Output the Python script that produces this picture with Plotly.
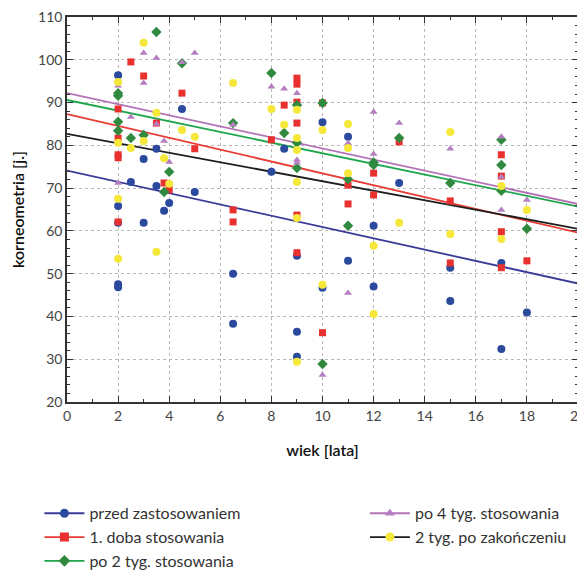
import plotly.graph_objects as go

# przed zastosowaniem
blue_x = [2, 2, 2, 2, 2, 2.5, 3, 3, 3.5, 3.5, 3.8, 4, 4.5, 5, 6.5, 6.5, 8, 8.5, 9, 9, 9,
          10, 10, 11, 11, 12, 12, 13, 15, 15, 17, 17, 18]
blue_y = [96.4, 65.8, 61.9, 47.5, 46.8, 71.4, 76.8, 61.9, 79.2, 70.5, 64.7, 66.5, 88.5, 69.1,
          50, 38.3, 73.8, 79.2, 54.2, 36.4, 30.6, 85.4, 46.7, 82, 53, 61.2, 47, 71.2, 51.4,
          43.6, 52.5, 32.4, 40.9]

# 1. doba stosowania
red_x = [2, 2, 2, 2, 2, 2.5, 3, 3.5, 3.8, 4, 4.5, 5, 6.5, 6.5, 8, 8.5, 9, 9, 9, 9, 9, 9,
         10, 10, 11, 11, 12, 12, 13, 15, 15, 17, 17, 17, 17, 18]
red_y = [88.5, 81.7, 77.8, 77.1, 62.1, 99.5, 96.2, 85.2, 71.2, 69.6, 92.2, 79.2, 64.9, 62.1,
         81.3, 89.4, 95.7, 94.3, 90.1, 85.2, 63.7, 54.9, 89.9, 36.2, 70.7, 66.3, 73.5, 68.4,
         80.8, 67, 52.5, 77.8, 72.8, 59.8, 51.4, 53]

# po 2 tyg. stosowania
green_x = [2, 2, 2, 2, 2.5, 3, 3.5, 3.8, 4, 4.5, 6.5, 8, 8.5, 9, 9, 9, 10, 10, 11, 11,
           12, 12, 13, 15, 17, 17, 17, 18]
green_y = [92.2, 91.6, 85.5, 83.4, 81.7, 82.4, 106.5, 69.1, 73.8, 99.2, 85.2, 96.9, 82.9,
           89.4, 80.6, 74.7, 89.9, 28.9, 72.1, 61.2, 76, 75.4, 81.7, 71.2, 81.3, 75.4, 69.4, 60.5]

# po 4 tyg. stosowania
purple_x = [2, 2, 2.5, 3, 3, 3.5, 3.5, 3.8, 4, 4.5, 5, 6.5, 8, 8.5, 9, 9, 9, 10, 11, 11,
            12, 12, 13, 15, 17, 17, 17, 18]
purple_y = [93.9, 71.2, 86.6, 101.6, 94.6, 100.4, 85, 81, 76.1, 99.4, 101.6, 84.8, 93.7, 93.2,
            92.2, 76.6, 75.9, 26.3, 80.5, 45.5, 87.8, 78, 85.2, 79.2, 82, 72.6, 64.9, 67.2]

# 2 tyg. po zakonczeniu
yellow_x = [2, 2, 2, 2, 2.5, 3, 3, 3.5, 3.5, 3.8, 4, 4.5, 5, 6.5, 8, 8.5, 9, 9, 9, 9, 9, 9,
            10, 10, 11, 11, 11, 12, 12, 13, 15, 15, 17, 17, 18]
yellow_y = [94.8, 80.6, 67.5, 53.5, 79.4, 104, 81, 87.6, 55.1, 77, 71, 83.6, 82, 94.6, 88.5,
            84.8, 88.3, 81.7, 78.9, 71.4, 63, 29.4, 83.6, 47.4, 85, 79.4, 73.5, 56.5, 40.6,
            61.9, 83.1, 59.3, 70.5, 58.1, 64.9]

# trend lines read at wiek = 0 and wiek = 20
line_x = [0, 20]
blue_line = [74.1, 47.7]
red_line = [87.3, 59.6]
green_line = [90.6, 65.7]
purple_line = [92.2, 66.3]
black_line = [82.7, 60.5]

series = [
    ("przed zastosowaniem", blue_x, blue_y, blue_line, "#2b4a9e", "#3a3b98", "circle", 8, "legend"),
    ("1. doba stosowania", red_x, red_y, red_line, "#e8312f", "#ea3a34", "square", 7, "legend"),
    ("po 2 tyg. stosowania", green_x, green_y, green_line, "#2f8a3f", "#1fa64c", "diamond", 8, "legend"),
    ("po 4 tyg. stosowania", purple_x, purple_y, purple_line, "#b47ec0", "#b273b6", "triangle-up", 7, "legend2"),
    ("2 tyg. po zakończeniu", yellow_x, yellow_y, black_line, "#f5e83a", "#1e1e1e", "circle", 8, "legend2"),
]

fig = go.Figure()

for name, xs, ys, ln, mcol, lcol, sym, size, leg in series:
    fig.add_trace(go.Scatter(x=line_x, y=ln, mode="lines", line=dict(color=lcol, width=1.8),
                             showlegend=False, hoverinfo="skip"))

for name, xs, ys, ln, mcol, lcol, sym, size, leg in series:
    fig.add_trace(go.Scatter(x=xs, y=ys, mode="markers", name=name, showlegend=False,
                             marker=dict(color=mcol, symbol=sym, size=size, line=dict(width=0))))

# legend entries (line + marker)
for name, xs, ys, ln, mcol, lcol, sym, size, leg in series:
    fig.add_trace(go.Scatter(x=[None], y=[None], mode="lines+markers", name=name, legend=leg,
                             line=dict(color=lcol, width=1.8),
                             marker=dict(color=mcol, symbol=sym, size=9)))

axis_font = dict(family="Lato, Open Sans, sans-serif", size=14, color="#444")
title_font = dict(family="Lato, sans-serif", size=16, color="#111", weight=600)

fig.update_xaxes(range=[0, 20], dtick=2, tick0=0, ticks="inside", ticklen=6, tickcolor="#333",
                 showline=True, linecolor="#333", linewidth=1.5, mirror="ticks",
                 showgrid=True, gridcolor="#b8b8b8", griddash="dot", gridwidth=1,
                 zeroline=False, tickfont=axis_font, automargin=False, ticklabeloverflow="allow",
                 minor=dict(dtick=1, ticks="inside", ticklen=3, tickcolor="#333", showgrid=False),
                 title=dict(text="wiek [lata]", font=title_font, standoff=22))
fig.update_yaxes(range=[20, 110], dtick=10, tick0=20, ticks="inside", ticklen=6, tickcolor="#333",
                 showline=True, linecolor="#333", linewidth=1.5, mirror="ticks",
                 showgrid=True, gridcolor="#b8b8b8", griddash="dot", gridwidth=1,
                 zeroline=False, tickfont=axis_font, automargin=False, ticklabeloverflow="allow",
                 minor=dict(dtick=2, ticks="inside", ticklen=3, tickcolor="#333", showgrid=False),
                 title=dict(text="korneometria [j.]", font=title_font, standoff=10))

legend_font = dict(family="Lato, Open Sans, sans-serif", size=16, color="#333")
# the page body adds an 8px offset, so the figure is shrunk to fit the window
fig.update_layout(
    width=577, height=567,
    margin=dict(l=59, r=7, t=9, b=173, autoexpand=False),
    plot_bgcolor="white", paper_bgcolor="white",
    legend=dict(x=-0.054, y=-0.245, xanchor="left", yanchor="top", font=legend_font,
                bgcolor="rgba(0,0,0,0)", tracegroupgap=0, itemwidth=40),
    legend2=dict(x=0.583, y=-0.245, xanchor="left", yanchor="top", font=legend_font,
                 bgcolor="rgba(0,0,0,0)", tracegroupgap=0, itemwidth=40),
)

fig.write_html("out.html")
